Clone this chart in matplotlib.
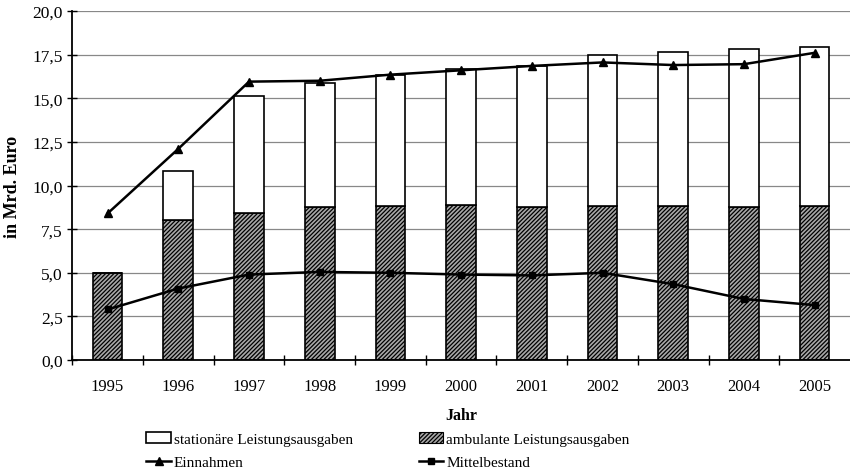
import matplotlib
matplotlib.use("Agg")
import matplotlib.pyplot as plt
from matplotlib.patches import Patch
from matplotlib.lines import Line2D
from matplotlib.ticker import FuncFormatter, MultipleLocator

plt.rcParams["font.family"] = ["Liberation Serif", "DejaVu Serif"]
plt.rcParams["hatch.linewidth"] = 0.9
plt.rcParams["hatch.color"] = "#1a1a1a"

# values (Mrd. Euro)
years = ["1995", "1996", "1997", "1998", "1999", "2000",
         "2001", "2002", "2003", "2004", "2005"]
ambulant = [5.0, 8.05, 8.45, 8.75, 8.85, 8.9, 8.75, 8.8, 8.8, 8.75, 8.8]
total = [5.0, 10.85, 15.15, 15.9, 16.35, 16.65, 16.85, 17.45, 17.65, 17.8, 17.95]
stationaer = [t - a for t, a in zip(total, ambulant)]
einnahmen = [8.4, 12.1, 15.95, 16.0, 16.35, 16.6, 16.85, 17.05, 16.9, 16.95, 17.6]
mittelbestand = [2.9, 4.1, 4.9, 5.05, 5.0, 4.9, 4.85, 5.0, 4.35, 3.5, 3.15]

fig = plt.figure(figsize=(8.5, 4.77), dpi=100)
ax = fig.add_axes([0.085, 0.243, 0.915, 0.732])

x = list(range(len(years)))
w = 0.42
hatch_face = "#a8a8a8"
ax.bar(x, ambulant, width=w, facecolor=hatch_face, edgecolor="black",
       linewidth=1.2, hatch="////////", zorder=2)
ax.bar(x, stationaer, width=w, bottom=ambulant, facecolor="white",
       edgecolor="black", linewidth=1.2, zorder=2)
ax.plot(x, einnahmen, color="black", lw=1.8, marker="^", ms=5.5, zorder=3)
ax.plot(x, mittelbestand, color="black", lw=1.8, marker="s", ms=5, zorder=3)

ax.set_xlim(-0.5, len(years) - 0.5)
ax.set_ylim(0, 20)
ax.yaxis.set_major_locator(MultipleLocator(2.5))
ax.yaxis.set_major_formatter(FuncFormatter(lambda v, p: f"{v:.1f}".replace(".", ",")))
ax.set_xticks(x)
ax.set_xticklabels(years)
ax.set_xticks([i + 0.5 for i in x[:-1]] + [-0.5], minor=True)
ax.tick_params(axis="x", which="major", length=0, pad=13, labelsize=12)
ax.tick_params(axis="x", which="minor", direction="inout", length=7, width=1)
ax.tick_params(axis="y", direction="inout", length=7, width=1, labelsize=12.5)

ax.grid(axis="y", color="#888888", lw=0.9, zorder=0)
for s in ["top", "right"]:
    ax.spines[s].set_visible(False)
for s in ["left", "bottom"]:
    ax.spines[s].set_linewidth(1.3)

ax.set_ylabel("in Mrd. Euro", fontweight="bold", fontsize=13, labelpad=8)
ax.set_xlabel("Jahr", fontweight="bold", fontsize=11.5, labelpad=9)

handles = [
    Patch(facecolor="white", edgecolor="black", linewidth=1.2),
    Line2D([], [], color="black", lw=1.8, marker="^", ms=5.5),
    Patch(facecolor=hatch_face, edgecolor="black", linewidth=0.8, hatch="////////"),
    Line2D([], [], color="black", lw=1.8, marker="s", ms=5),
]
labels = ["stationäre Leistungsausgaben", "Einnahmen",
          "ambulante Leistungsausgaben", "Mittelbestand"]
fig.legend(handles, labels, ncol=2, loc="lower left", bbox_to_anchor=(0.165, 0.002),
           frameon=False, fontsize=11, handlelength=1.6, handletextpad=0.2,
           columnspacing=4.3, labelspacing=0.6, borderaxespad=0)

fig.savefig("out.png", dpi=100)
